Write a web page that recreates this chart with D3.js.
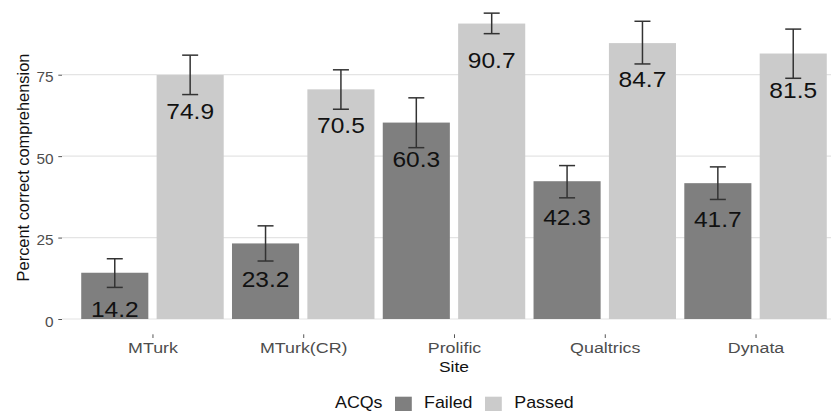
<!DOCTYPE html>
<html>
<head>
<meta charset="utf-8">
<script src="https://cdn.jsdelivr.net/npm/d3@7"></script>
<style>
  html, body { margin: 0; padding: 0; background: #fff; }
  svg { display: block; font-family: "Liberation Sans", Arial, Helvetica, sans-serif; }
</style>
</head>
<body>
<svg id="chart" width="831" height="411"></svg>
<script>
// ---- data ----
const sites = ["MTurk", "MTurk(CR)", "Prolific", "Qualtrics", "Dynata"];
const groups = ["Failed", "Passed"];
const failed = [14.2, 23.2, 60.3, 42.3, 41.7];
const passed = [74.9, 70.5, 90.7, 84.7, 81.5];
const failedLo = [9.7, 17.8, 52.6, 37.2, 36.7];
const failedHi = [18.5, 28.6, 67.9, 47.1, 46.7];
const passedLo = [68.9, 64.4, 87.6, 78.3, 73.9];
const passedHi = [81.0, 76.5, 93.9, 91.4, 89.0];
const yTicks = [0, 25, 50, 75];
const yTitle = "Percent correct comprehension";
const xTitle = "Site";
const legendTitle = "ACQs";

// ---- layout ----
const W = 831, H = 411;
const panelLeft = 62, panelRight = 846, panelBottom = 334.3;
const colors = { Failed: "#7f7f7f", Passed: "#cbcbcb" };
const stretch = 1.19;

const svg = d3.select("#chart");

const x = d3.scalePoint().domain(sites).range([panelLeft, panelRight]).padding(0.6);
const step = x.step();
const sub = d3.scaleBand().domain(groups).range([-step / 2, step / 2])
  .paddingInner(0.11).paddingOuter(0.055);
const y = d3.scaleLinear().domain([0, 75]).range([319, 74.7]);

const rows = [];
sites.forEach((s, i) => {
  rows.push({ site: s, group: "Failed", v: failed[i], lo: failedLo[i], hi: failedHi[i] });
  rows.push({ site: s, group: "Passed", v: passed[i], lo: passedLo[i], hi: passedHi[i] });
});

// gridlines
svg.append("g").selectAll("line").data(yTicks).join("line")
  .attr("x1", panelLeft).attr("x2", panelRight)
  .attr("y1", d => y(d)).attr("y2", d => y(d))
  .attr("stroke", "#e4e4e4").attr("stroke-width", 1.2);

// bars
svg.append("g").selectAll("rect").data(rows).join("rect")
  .attr("x", d => x(d.site) + sub(d.group))
  .attr("width", sub.bandwidth())
  .attr("y", d => y(d.v))
  .attr("height", d => y(0) - y(d.v))
  .attr("fill", d => colors[d.group]);

// error bars
const eb = svg.append("g").attr("stroke", "#333").attr("stroke-width", 1.5);
const cx = d => x(d.site) + sub(d.group) + sub.bandwidth() / 2;
const capW = 8;
eb.selectAll("line.v").data(rows).join("line").attr("class", "v")
  .attr("x1", cx).attr("x2", cx).attr("y1", d => y(d.lo)).attr("y2", d => y(d.hi));
eb.selectAll("line.t").data(rows).join("line").attr("class", "t")
  .attr("x1", d => cx(d) - capW).attr("x2", d => cx(d) + capW)
  .attr("y1", d => y(d.hi)).attr("y2", d => y(d.hi));
eb.selectAll("line.b").data(rows).join("line").attr("class", "b")
  .attr("x1", d => cx(d) - capW).attr("x2", d => cx(d) + capW)
  .attr("y1", d => y(d.lo)).attr("y2", d => y(d.lo));

// bar value labels
svg.append("g").selectAll("text").data(rows).join("text")
  .attr("transform", d => `translate(${cx(d)},${y(d.v) + 44}) scale(1.1,1)`)
  .attr("text-anchor", "middle")
  .attr("font-size", 22.3)
  .attr("fill", "#111")
  .text(d => d.v.toFixed(1));

// y axis
const yAxis = svg.append("g").attr("transform", `translate(${panelLeft},0)`)
  .call(d3.axisLeft(y).tickValues(yTicks).tickSize(3.7).tickPadding(4.8).tickFormat(d3.format("d")));
yAxis.select(".domain").remove();
yAxis.selectAll(".tick line").attr("stroke", "#555");
yAxis.selectAll(".tick text").attr("font-size", 15.4).attr("fill", "#4d4d4d")
  .attr("dy", "0.46em").attr("font-family", null);

// x axis
const xAxis = svg.append("g").attr("transform", `translate(0,${panelBottom})`)
  .call(d3.axisBottom(x).tickSize(3.7));
xAxis.select(".domain").remove();
xAxis.selectAll(".tick line").attr("stroke", "#555");
xAxis.selectAll(".tick text")
  .attr("y", null).attr("dy", null).attr("font-family", null)
  .attr("transform", `translate(0,${353.3 - panelBottom}) scale(${stretch},1)`)
  .attr("font-size", 15).attr("fill", "#4d4d4d");

// axis titles
svg.append("text")
  .attr("transform", `translate(${(panelLeft + panelRight) / 2},372.3) scale(1.16,1)`)
  .attr("text-anchor", "middle").attr("font-size", 15).attr("fill", "#111")
  .text(xTitle);
svg.append("text")
  .attr("transform", `translate(29.3,167.5) rotate(-90)`)
  .attr("text-anchor", "middle").attr("font-size", 16.4).attr("fill", "#111")
  .text(yTitle);

// legend
const lgStretch = 1.1;
const lg = svg.append("g").attr("transform", "translate(335,408.2)");
lg.append("text").attr("transform", `scale(${lgStretch},1)`).attr("font-size", 16.2).attr("fill", "#111")
  .text(legendTitle);
const keyX = [60, 150];
const labX = [89, 179.3];
groups.forEach((g, i) => {
  lg.append("rect").attr("x", keyX[i]).attr("y", -11.5).attr("width", 16.8).attr("height", 16.8)
    .attr("fill", colors[g]);
  lg.append("text").attr("transform", `translate(${labX[i]},0) scale(${lgStretch},1)`)
    .attr("font-size", 16.2).attr("fill", "#111").text(g);
});
</script>
</body>
</html>
